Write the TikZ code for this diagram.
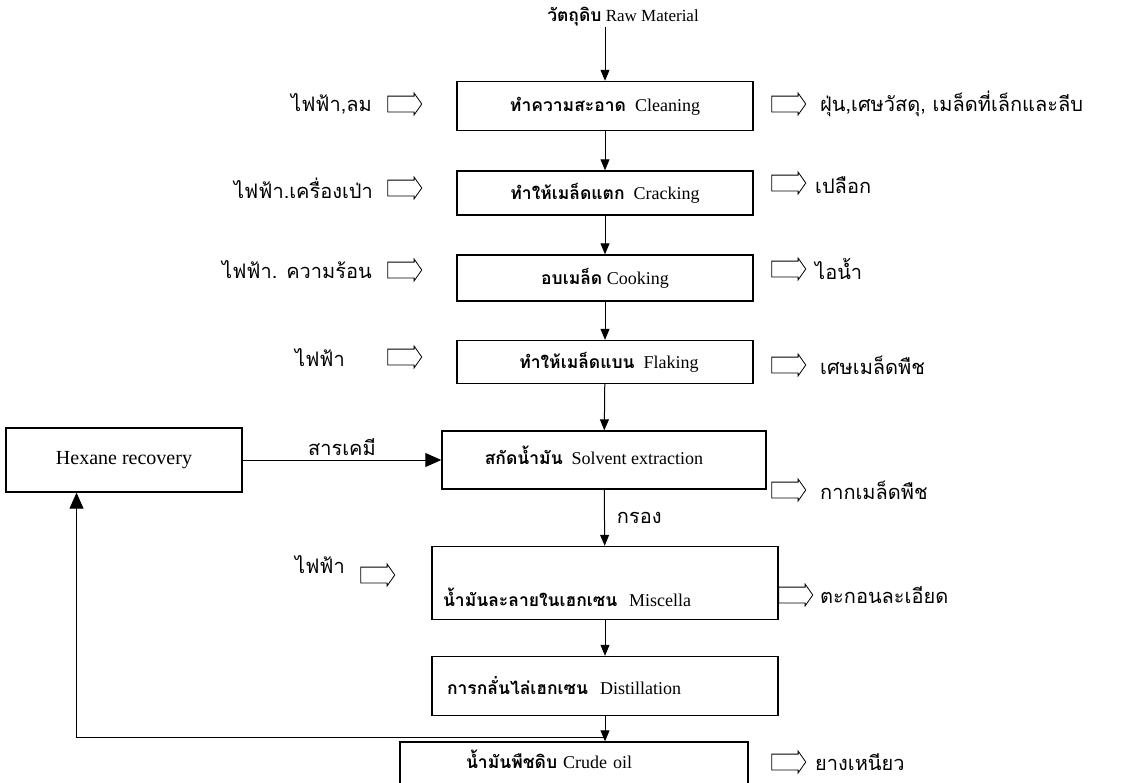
\documentclass[tikz,border=0pt]{standalone}
\usepackage{fontspec}
\setmainfont{Liberation Serif}
\newfontfamily\thai[Script=Thai]{Loma}
\usetikzlibrary{arrows.meta,shapes.arrows,calc}
\newcommand\thb[1]{{\thai\bfseries\fontsize{17.5}{20}\selectfont #1}}
\tikzset{
  box/.style={draw,line width=1.4pt,inner sep=0pt,align=center,font=\fontsize{18}{20}\selectfont},
  leftbox/.style={box,align=left},
  flow/.style={-{Triangle[length=11pt,width=9pt]},line width=1pt},
  bigflow/.style={-{Triangle[length=16pt,width=14pt]},line width=1pt},
  hollow/.style={draw,single arrow,single arrow head extend=3pt,single arrow tip angle=110,minimum height=34pt,inner sep=0pt,text height=7.5pt,text depth=7.5pt,line width=0.8pt},
  side/.style={font=\thai\fontsize{20}{22}\selectfont,inner sep=0pt},
}
\begin{document}
\begin{tikzpicture}[x=1pt,y=-1pt]
\useasboundingbox (0,0) rectangle (1146,782);
\clip (0,0) rectangle (1146,782);
\fill[white] (0,0) rectangle (1146,782);

% main column
\node[font=\fontsize{17}{19}\selectfont,inner sep=0pt] (raw) at (623,17) {\thb{วัตถุดิบ} Raw Material};
\node[box,minimum width=296pt,minimum height=49pt] (clean) at (605,106) {\thb{ทำความสะอาด}~ Cleaning};
\node[box,minimum width=296pt,minimum height=44pt] (crack) at (605,193) {\thb{ทำให้เมล็ดแตก}~ Cracking};
\node[box,minimum width=296pt,minimum height=46pt] (cook) at (605,278) {\thb{อบเมล็ด} Cooking};
\node[box,minimum width=296pt,minimum height=43pt] (flake) at (605,362) {\thb{ทำให้เมล็ดแบน}~ Flaking\hspace*{-8pt}};
\node[box,minimum width=324pt,minimum height=58pt,text height=22pt,text depth=14pt] (solv) at (604,460) {\thb{สกัดน้ำมัน}~ Solvent extraction\hspace*{20pt}};
\node[box,minimum width=236pt,minimum height=64pt,font=\fontsize{20}{22}\selectfont] (hex) at (124,460) {Hexane recovery};
\node[leftbox,text width=324pt,inner xsep=11pt,minimum height=73pt,text height=56pt,text depth=10pt] (misc) at (605,583) {\thb{น้ำมันละลายในเฮกเซน}~ Miscella};
\node[leftbox,text width=316pt,inner xsep=15pt,minimum height=59pt] (dist) at (605,686) {\thb{การกลั่นไล่เฮกเซน}~ Distillation};
\node[leftbox,text width=216pt,inner xsep=66pt,minimum height=66pt,text height=10pt,text depth=24pt] (crude) at (574,775) {\thb{น้ำมันพืชดิบ} Crude oil};

\draw[flow] (raw.south -| clean.north) -- (clean.north);
\draw[flow] (clean) -- (crack);
\draw[flow] (crack) -- (cook);
\draw[flow] (cook) -- (flake);
\draw[flow] (flake) -- (solv);
\draw[flow] (solv) -- node[right=12pt,side]{กรอง} (misc);
\draw[flow] (misc) -- (dist);
\draw[flow] (dist.south) -- (crude.north -| dist.south);
\draw[bigflow] (hex) -- node[above=4pt,side]{สารเคมี} (solv);
\coordinate (fb) at (604,737);
\draw[bigflow] (fb) -| ($(hex.south west)!0.3!(hex.south east)$);

% inputs
\node[side,anchor=east] (in1) at (372,104) {ไฟฟ้า,ลม};
\node[hollow] (ia1) at (402,104) {};
\node[side,anchor=east] (in2) at (373,188) {ไฟฟ้า.เครื่องเป่า};
\node[hollow] (ia2) at (402,188) {};
\node[side,anchor=east] (in3) at (372,270) {ไฟฟ้า. ความร้อน};
\node[hollow] (ia3) at (402,270) {};
\node[side,anchor=east] (in4) at (345,358) {ไฟฟ้า};
\node[hollow] (ia4) at (402,357) {};
\node[side,anchor=east] (in5) at (345,565) {ไฟฟ้า};
\node[hollow] (ia5) at (375,575) {};

% outputs
\node[hollow] (oa1) at (786,104) {};
\node[side,anchor=west] (out1) at (820,104) {ฝุ่น,เศษวัสดุ, เมล็ดที่เล็กและลีบ};
\node[hollow] (oa2) at (786,183) {};
\node[side,anchor=west] (out2) at (815,185) {เปลือก};
\node[hollow] (oa3) at (786,269) {};
\node[side,anchor=west] (out3) at (815,269) {ไอน้ำ};
\node[hollow] (oa4) at (786,365) {};
\node[side,anchor=west] (out4) at (820,365) {เศษเมล็ดพืช};
\node[hollow] (oa5) at (786,490) {};
\node[side,anchor=west] (out5) at (820,490) {กากเมล็ดพืช};
\node[hollow] (oa6) at (793,595) {};
\node[side,anchor=west] (out6) at (820,595) {ตะกอนละเอียด};
\node[hollow] (oa7) at (786,762) {};
\node[side,anchor=west] (out7) at (815,762) {ยางเหนียว};
\end{tikzpicture}
\end{document}
